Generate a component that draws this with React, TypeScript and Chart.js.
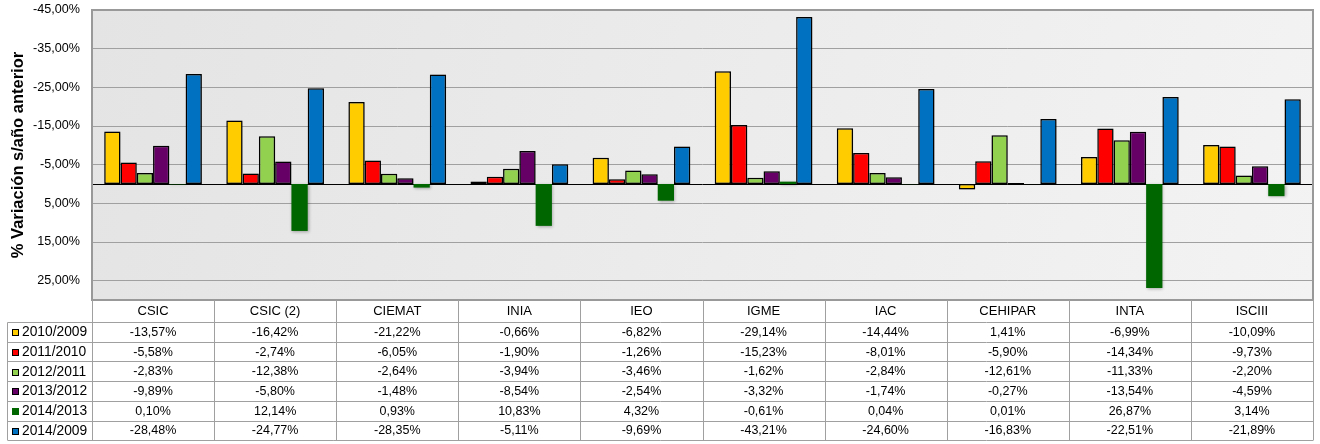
import React, { useEffect, useRef } from "react";
import { Chart } from "chart.js/auto";

const categories = ["CSIC", "CSIC (2)", "CIEMAT", "INIA", "IEO", "IGME", "IAC", "CEHIPAR", "INTA", "ISCIII"];
const seriesLabels = ["2010/2009", "2011/2010", "2012/2011", "2013/2012", "2014/2013", "2014/2009"];
const s2010 = [-13.57, -16.42, -21.22, -0.66, -6.82, -29.14, -14.44, 1.41, -6.99, -10.09];
const s2011 = [-5.58, -2.74, -6.05, -1.9, -1.26, -15.23, -8.01, -5.9, -14.34, -9.73];
const s2012 = [-2.83, -12.38, -2.64, -3.94, -3.46, -1.62, -2.84, -12.61, -11.33, -2.2];
const s2013 = [-9.89, -5.8, -1.48, -8.54, -2.54, -3.32, -1.74, -0.27, -13.54, -4.59];
const s2014 = [0.1, 12.14, 0.93, 10.83, 4.32, -0.61, 0.04, 0.01, 26.87, 3.14];
const s2014_2009 = [-28.48, -24.77, -28.35, -5.11, -9.69, -43.21, -24.6, -16.83, -22.51, -21.89];
const yTicks = [-45, -35, -25, -15, -5, 5, 15, 25];
const yTitle = "% Variación s/año anterior";

const seriesValues = [s2010, s2011, s2012, s2013, s2014, s2014_2009];
const colors = ["#FFCC00", "#FF0000", "#92D050", "#660066", "#006600", "#0070C0"];
const FONT = "'Liberation Sans', Arial, sans-serif";

const fmt = (v: number) => v.toFixed(2).replace(".", ",") + "%";

export default function App() {
  const ref = useRef<HTMLCanvasElement | null>(null);
  useEffect(() => {
    const canvas = ref.current!;
    const plugin = {
      id: "custom",
      beforeDraw(chart: any) {
        const { ctx, chartArea: a } = chart;
        ctx.save();
        const g = ctx.createLinearGradient(a.left, a.top, a.right, a.bottom);
        g.addColorStop(0, "#e4e4e4");
        g.addColorStop(1, "#f3f3f3");
        ctx.fillStyle = g;
        ctx.fillRect(a.left, a.top, a.right - a.left, a.bottom - a.top);
        ctx.restore();
      },
      beforeDatasetsDraw(chart: any) {
        const { ctx, chartArea: a } = chart;
        const y0 = Math.round(chart.scales.y.getPixelForValue(0)) + 0.5;
        ctx.save();
        ctx.strokeStyle = "#000";
        ctx.lineWidth = 1;
        ctx.beginPath();
        ctx.moveTo(a.left, y0);
        ctx.lineTo(a.right, y0);
        ctx.stroke();
        ctx.restore();
        ctx.save();
        ctx.shadowColor = "rgba(0,0,0,0.3)";
        ctx.shadowBlur = 3;
        ctx.shadowOffsetX = 1;
        ctx.shadowOffsetY = 1;
      },
      afterDatasetsDraw(chart: any) {
        chart.ctx.restore();
      },
      afterDraw(chart: any) {
        const { ctx, chartArea: a } = chart;
        ctx.save();
        ctx.strokeStyle = "#999";
        ctx.lineWidth = 2;
        ctx.strokeRect(a.left, a.top, a.right - a.left, a.bottom - a.top);
        ctx.restore();
        const n = categories.length;
        const cw = (a.right - a.left) / n;
        const tableLeft = 7.5;
        const headTop = a.bottom;
        const rowTop = a.bottom + 22;
        const rowH = 19.7;
        const nRows = seriesLabels.length;
        const tableBottom = rowTop + rowH * nRows;
        ctx.save();
        ctx.strokeStyle = "#a0a0a0";
        ctx.lineWidth = 1;
        ctx.beginPath();
        for (let i = 0; i <= nRows; i++) {
          const y = Math.round(rowTop + i * rowH) + 0.5;
          ctx.moveTo(tableLeft, y);
          ctx.lineTo(a.right, y);
        }
        ctx.moveTo(tableLeft, Math.round(rowTop) + 0.5);
        ctx.lineTo(tableLeft, tableBottom);
        for (let i = 0; i <= n; i++) {
          const x = Math.round(a.left + i * cw) + 0.5;
          ctx.moveTo(x, headTop);
          ctx.lineTo(x, Math.round(tableBottom) + 0.5);
        }
        ctx.stroke();
        ctx.restore();

        ctx.save();
        ctx.fillStyle = "#000";
        ctx.textAlign = "center";
        ctx.textBaseline = "middle";
        ctx.font = `13px ${FONT}`;
        const xs = chart.scales.x;
        categories.forEach((c, i) => {
          ctx.fillText(c, xs.getPixelForValue(i), headTop + 11);
        });
        ctx.font = `12.5px ${FONT}`;
        seriesValues.forEach((vals, r) => {
          const cy = rowTop + r * rowH + rowH / 2 + 0.5;
          vals.forEach((v, i) => {
            ctx.fillText(fmt(v), xs.getPixelForValue(i), cy);
          });
        });
        ctx.textAlign = "left";
        ctx.font = `13.8px ${FONT}`;
        seriesLabels.forEach((lab, r) => {
          const cy = rowTop + r * rowH + rowH / 2 + 0.5;
          ctx.fillStyle = colors[r];
          ctx.fillRect(12, Math.round(cy) - 3, 7, 7);
          if (r !== 4) {
            ctx.strokeStyle = "#000";
            ctx.lineWidth = 1;
            ctx.strokeRect(12.5, Math.round(cy) - 2.5, 6, 6);
          }
          ctx.fillStyle = "#000";
          ctx.fillText(lab, 22, cy);
        });
        ctx.restore();
      },
    };

    const chart = new Chart(canvas, {
      type: "bar",
      data: {
        labels: categories,
        datasets: seriesLabels.map((lab, i) => ({
          label: lab,
          data: seriesValues[i],
          backgroundColor: colors[i],
          borderColor: "#000",
          borderWidth: i === 4 ? 0 : 1.5,
          borderSkipped: false,
          categoryPercentage: 0.8,
          barPercentage: 1,
        })),
      },
      options: {
        animation: false,
        responsive: false,
        maintainAspectRatio: false,
        layout: { padding: { left: 8, right: 7, top: 10, bottom: 144 } },
        plugins: { legend: { display: false }, tooltip: { enabled: false } },
        scales: {
          x: { display: false, offset: true },
          y: {
            reverse: true,
            min: -45,
            max: 30,
            afterBuildTicks: (s: any) => {
              s.ticks = yTicks.map((v) => ({ value: v }));
            },
            afterFit: (s: any) => {
              s.width = 84;
              s.paddingTop = 0;
              s.paddingBottom = 0;
            },
            border: { display: false },
            grid: { color: "#a0a0a0", lineWidth: 1, drawTicks: false },
            ticks: {
              padding: 12,
              color: "#000",
              font: { family: FONT, size: 12.6 },
              callback: (v: any) => fmt(Number(v)),
            },
            title: {
              display: true,
              text: yTitle,
              color: "#000",
              font: { family: FONT, size: 16.5, weight: "bold" },
              padding: { top: 1, bottom: 0 },
            },
          },
        },
      },
      plugins: [plugin],
    });
    return () => chart.destroy();
  }, []);
  return (
    <div style={{ position: "fixed", left: 0, top: 0, width: 1320, height: 444, background: "#fff" }}>
      <canvas ref={ref} width={1320} height={444} style={{ display: "block" }} />
    </div>
  );
}
